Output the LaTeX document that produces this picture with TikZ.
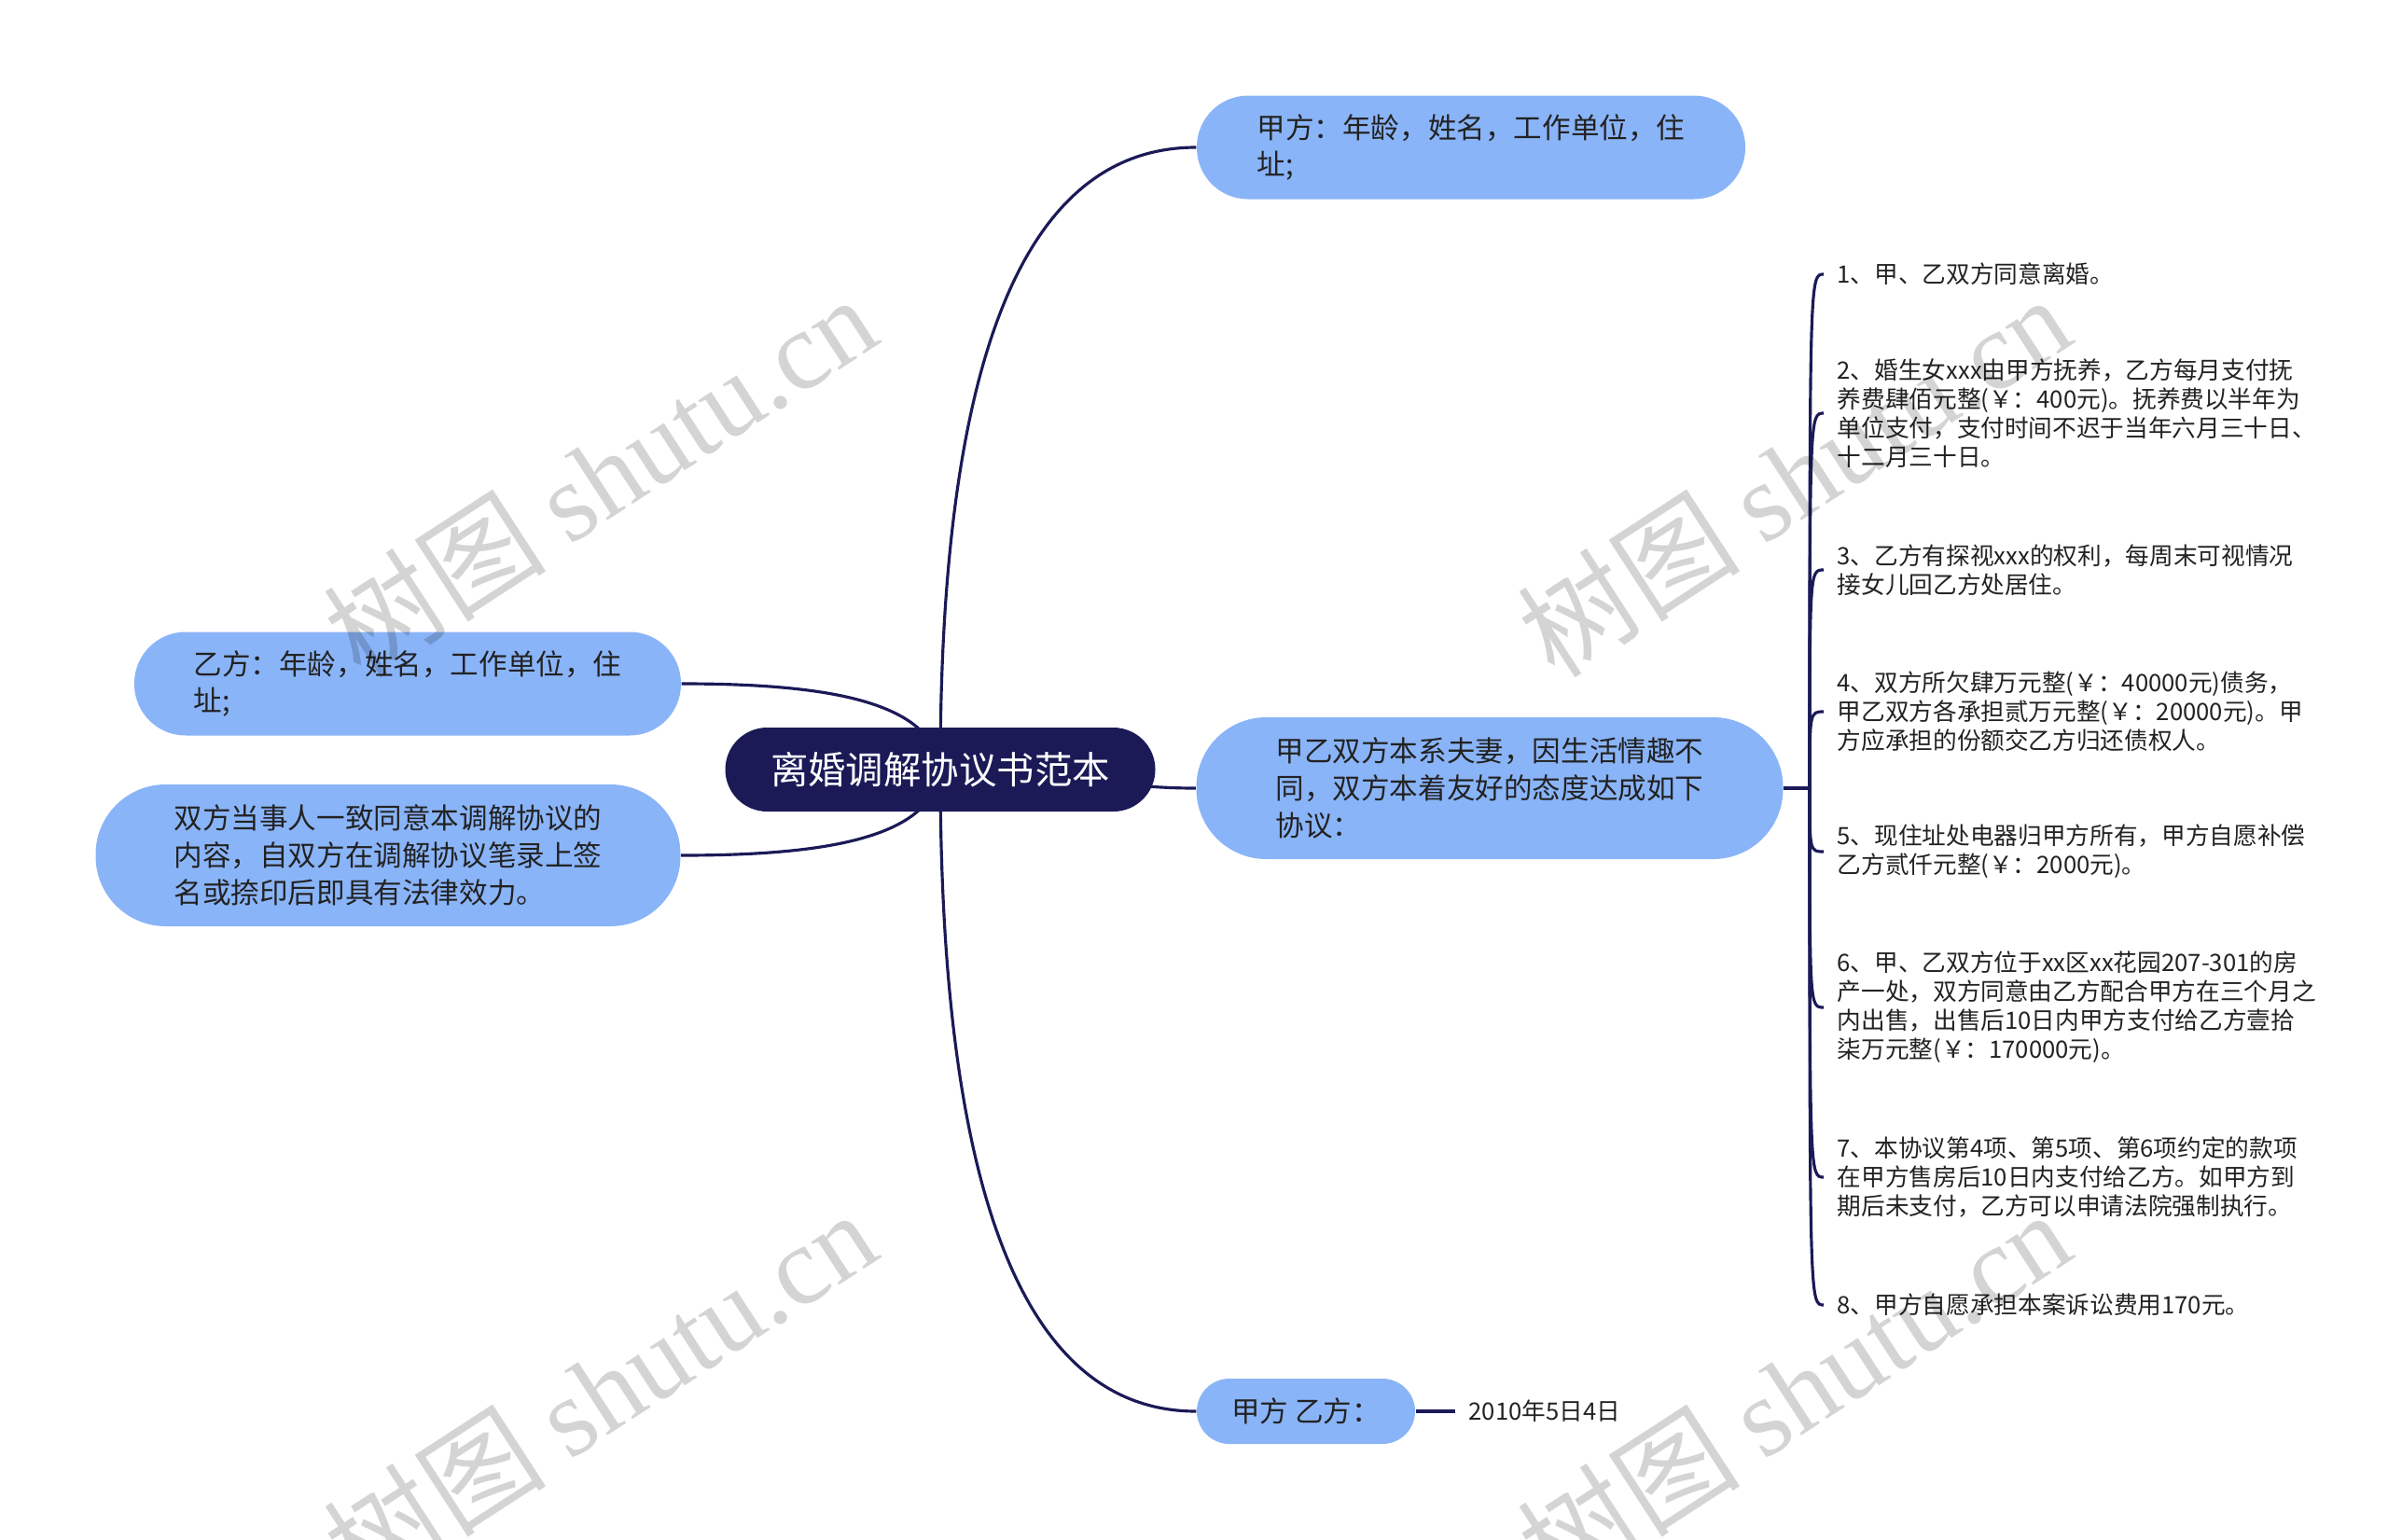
\documentclass[tikz,border=0pt]{standalone}
\usepackage{fontspec}
\setmainfont{Noto Sans CJK SC}
\newfontfamily\wmfont{Liberation Serif}
\usepackage{tikz}
\usetikzlibrary{backgrounds}
\definecolor{navy}{RGB}{27,26,87}
\definecolor{skyfill}{RGB}{138,180,248}
\definecolor{inktext}{RGB}{34,34,34}

\begin{document}
\begin{tikzpicture}[
  link/.style={draw=navy,line width=0.9pt},
  topic/.style={fill=navy,text=white,rounded corners=0.45cm,minimum width=4.61cm,minimum height=0.9cm,font=\fontsize{11.5pt}{14pt}\selectfont},
  branch/.style={fill=skyfill,text=inktext,align=left,font=\fontsize{8.7pt}{11.3pt}\selectfont},
  leaf/.style={anchor=west,inner xsep=0.14cm,inner ysep=0pt,align=left,text=inktext,font=\fontsize{7.3pt}{8.8pt}\selectfont},
  wmark/.style={rotate=33,text=black,text opacity=0.17,font=\fontsize{34pt}{34pt}\selectfont}
]
\useasboundingbox (0,0) rectangle (25.6,-16.51);

\node[topic] (root) at (10.08,-8.25) {离婚调解协议书范本};
\node[branch,minimum width=5.88cm,minimum height=1.11cm,rounded corners=0.55cm] (jia) at (15.77,-1.58) {甲方：年龄，姓名，工作单位，住\\址;};
\node[branch,minimum width=5.86cm,minimum height=1.11cm,rounded corners=0.55cm] (yi) at (4.37,-7.33) {乙方：年龄，姓名，工作单位，住\\址;};
\node[branch,minimum width=6.27cm,minimum height=1.52cm,rounded corners=0.75cm] (sign) at (4.16,-9.17) {双方当事人一致同意本调解协议的\\内容，自双方在调解协议笔录上签\\名或捺印后即具有法律效力。};
\node[branch,minimum width=6.29cm,minimum height=1.52cm,rounded corners=0.75cm] (intro) at (15.97,-8.45) {甲乙双方本系夫妻，因生活情趣不\\同，双方本着友好的态度达成如下\\协议：};
\node[branch,minimum width=2.34cm,minimum height=0.70cm,rounded corners=0.35cm] (party) at (14.00,-15.13) {甲方 乙方：};
\node[leaf] (date) at (15.60,-15.13) {2010年5日4日};

\coordinate (jn) at (19.40,-8.45);
\node[leaf] (l1) at (19.55,-2.94) {1、甲、乙双方同意离婚。};
\node[leaf] (l2) at (19.55,-4.43) {2、婚生女xxx由甲方抚养，乙方每月支付抚\\养费肆佰元整(￥：400元)。抚养费以半年为\\单位支付，支付时间不迟于当年六月三十日、\\十二月三十日。};
\node[leaf] (l3) at (19.55,-6.11) {3、乙方有探视xxx的权利，每周末可视情况\\接女儿回乙方处居住。};
\node[leaf] (l4) at (19.55,-7.63) {4、双方所欠肆万元整(￥：40000元)债务，\\甲乙双方各承担贰万元整(￥：20000元)。甲\\方应承担的份额交乙方归还债权人。};
\node[leaf] (l5) at (19.55,-9.13) {5、现住址处电器归甲方所有，甲方自愿补偿\\乙方贰仟元整(￥：2000元)。};
\node[leaf] (l6) at (19.55,-10.80) {6、甲、乙双方位于xx区xx花园207-301的房\\产一处，双方同意由乙方配合甲方在三个月之\\内出售，出售后10日内甲方支付给乙方壹拾\\柒万元整(￥：170000元)。};
\node[leaf] (l7) at (19.55,-12.62) {7、本协议第4项、第5项、第6项约定的款项\\在甲方售房后10日内支付给乙方。如甲方到\\期后未支付，乙方可以申请法院强制执行。};
\node[leaf] (l8) at (19.55,-13.99) {8、甲方自愿承担本案诉讼费用170元。};

\begin{scope}[on background layer]
\draw[link] (root.center) .. controls +(0,4.45) and +(-1.83,0) .. (jia.west);
\draw[link] (root.center) .. controls +(-0.08,0.75) and +(1.5,0) .. (yi.east);
\draw[link] (root.center) .. controls +(-0.08,-0.75) and +(1.5,0) .. (sign.east);
\draw[link] (root.center) .. controls +(1.5,0) and +(-1,0) .. (intro.west);
\draw[link] (root.center) .. controls +(0,-4.59) and +(-1.83,0) .. (party.west);
\end{scope}
\draw[link] (party) -- (date);
\draw[link] (intro.east) -- (jn);
\foreach \n in {1,...,8}
  \draw[link] (jn) .. controls (jn |- l\n.west) .. (l\n.west);

\foreach \x/\y [count=\i] in {6.43/-5.10,19.23/-5.10,6.43/-14.91,19.23/-14.91}
  \node[wmark] (wm\i) at (\x,\y) {树图 {\wmfont shutu.cn}};
\end{tikzpicture}
\end{document}
